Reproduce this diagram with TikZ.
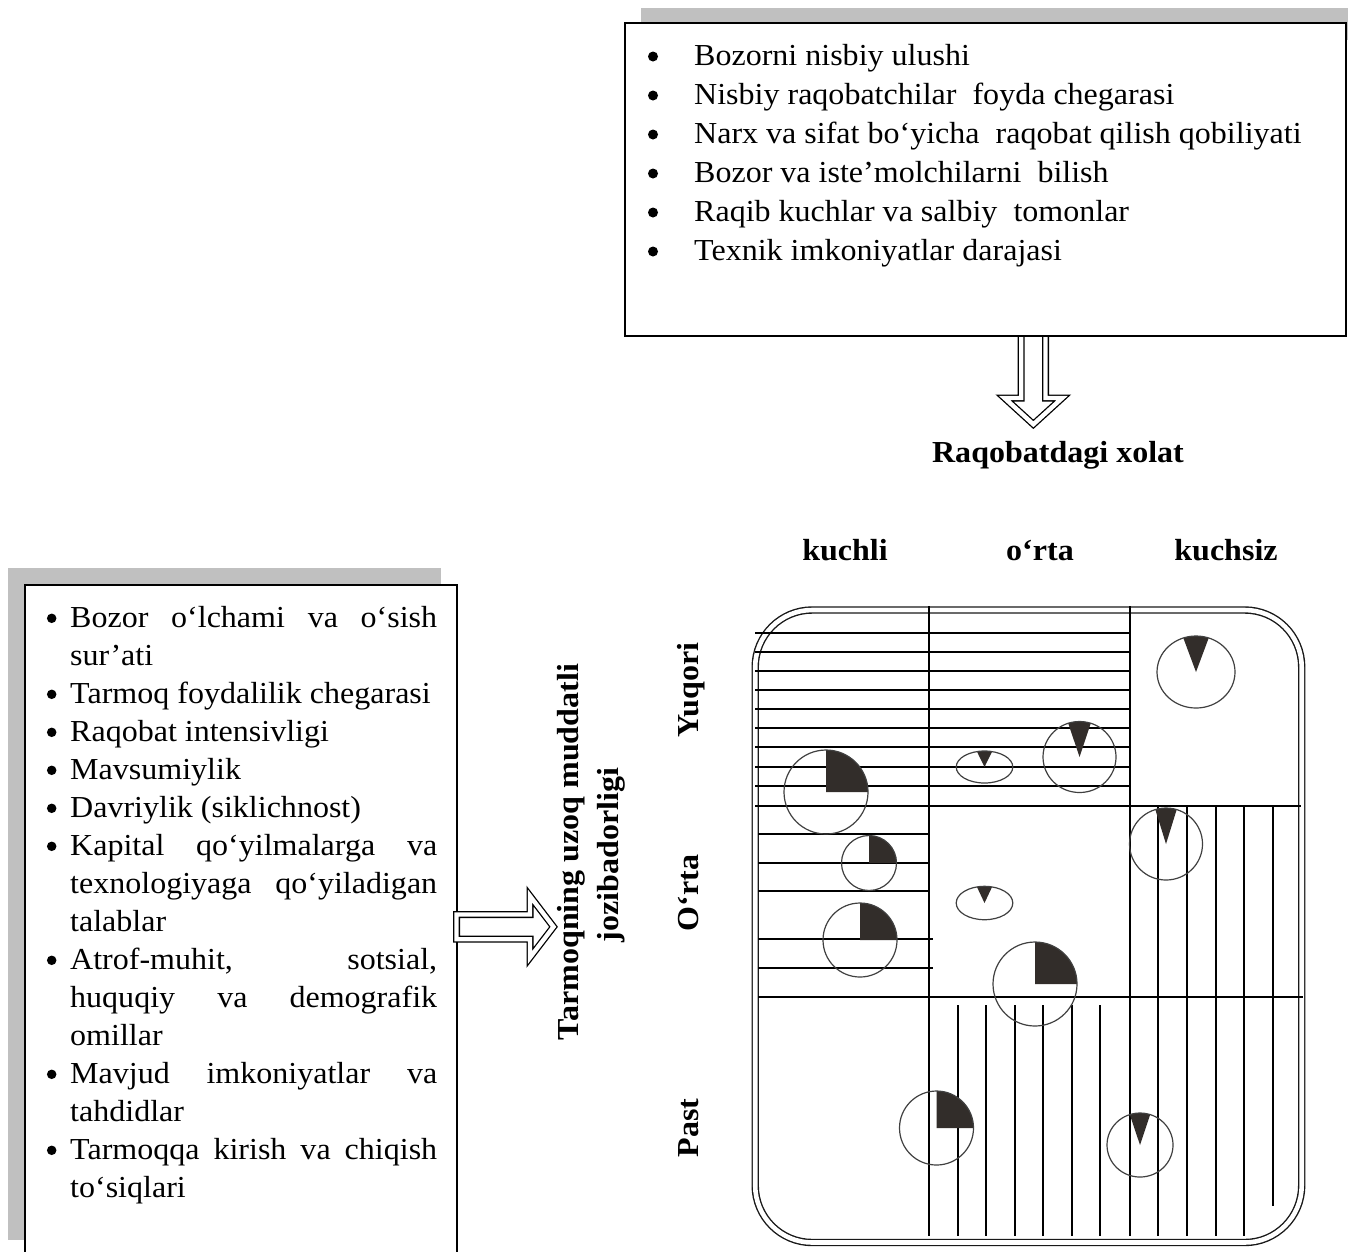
\documentclass[tikz,border=0pt]{standalone}
\usepackage{fontspec}
\setmainfont{Liberation Serif}[FakeStretch=1.05]
\definecolor{shadowgray}{RGB}{192,192,192}
\definecolor{piefill}{RGB}{50,45,42}

% pie with its upper right quarter filled
\newcommand\quarterpie[3]{%
  \fill[wedge] (#1,#2) -- ++(270:#3) arc[start angle=270, end angle=360, radius=#3] -- cycle;
  \draw[ring] (#1,#2) circle[radius=#3];}
% ring (or ellipse) with a narrow dark sector pointing down to its centre
\newcommand\sliverring[5]{%
  \fill[wedge] (#1,#2) -- ++({270-#5}:#3 and #4)
    arc[start angle={270-#5}, end angle={270+#5}, x radius=#3, y radius=#4] -- cycle;
  \draw[ring] (#1,#2) ellipse[x radius=#3, y radius=#4];}

\begin{document}
\begin{tikzpicture}[x=1pt,y=-1pt,
  txt/.style={anchor=base west, inner sep=0pt, font=\fontsize{30.5}{36}\selectfont},
  bul/.style={circle, fill=black, inner sep=0pt, minimum size=10pt},
  head/.style={anchor=base, inner sep=0pt, font=\fontsize{30.5}{36}\selectfont\bfseries},
  side/.style={head, rotate=90},
  hatch/.style={line width=1.8pt, black},
  ring/.style={line width=1.2pt, black!75},
  wedge/.style={fill=piefill},
  blockarrow/.style={draw=black, line width=1.3pt, double=white, double distance=4.4pt, line join=miter},
  frame/.style={draw=black!90, line width=1.4pt, double=white, double distance=4.6pt, rounded corners=57pt}
]
\useasboundingbox (0,0) rectangle (1348,1251);
\clip (0,0) rectangle (1348,1251);
\fill[white] (0,0) rectangle (1348,1251);

% ---------- competitive position factors (top box) ----------
\fill[shadowgray] (641,8) rectangle (1360,40);
\draw[blockarrow] (1021.2,330) -- (1021.2,398) -- (1004.5,398) -- (1033.35,424.3)
  -- (1062.2,398) -- (1045.5,398) -- (1045.5,330);
\node[draw, line width=2.2pt, fill=white, inner sep=0pt,
      minimum width=721pt, minimum height=313pt] (topbox) at (985.5,179.5) {};
\node[bul] (tb1) at (653,56.5) {};
\node[txt] (tt1) at (694,65) {Bozorni nisbiy ulushi};
\node[bul] (tb2) at (653,95.5) {};
\node[txt] (tt2) at (694,104) {Nisbiy raqobatchilar\ \ foyda chegarasi};
\node[bul] (tb3) at (653,134.5) {};
\node[txt] (tt3) at (694,143) {Narx va sifat bo‘yicha\ \ raqobat qilish qobiliyati};
\node[bul] (tb4) at (653,173.5) {};
\node[txt] (tt4) at (694,182) {Bozor va iste’molchilarni\ \ bilish};
\node[bul] (tb5) at (653,212.5) {};
\node[txt] (tt5) at (694,221) {Raqib kuchlar va salbiy\ \ tomonlar};
\node[bul] (tb6) at (653,251.5) {};
\node[txt] (tt6) at (694,260) {Texnik imkoniyatlar darajasi};

\node[head] (raqobat) at (1058,462) {Raqobatdagi xolat};

% ---------- industry attractiveness factors (left box) ----------
\fill[shadowgray] (8,568) rectangle (441,1240);
\node[draw, line width=1.6pt, fill=white, inner sep=0pt,
      minimum width=432pt, minimum height=700pt] (leftbox) at (241,935) {};
\draw[blockarrow] (456.5,914.5) -- (530,914.5) -- (530,896) -- (553.5,926.8)
  -- (530,957.5) -- (530,939.2) -- (456.5,939.2) -- cycle;

\tikzset{lbul/.style={bul, minimum size=9.5pt}}
\node[lbul] (lb1) at (51.7,618.3) {};
\node[txt] (lt1) at (70,627) {\makebox[367pt][s]{Bozor o‘lchami va o‘sish}};
\node[txt] (lt2) at (70,665) {sur’ati};
\node[lbul] (lb2) at (51.7,694.3) {};
\node[txt] (lt3) at (70,703) {Tarmoq foydalilik chegarasi};
\node[lbul] (lb3) at (51.7,732.3) {};
\node[txt] (lt4) at (70,741) {Raqobat intensivligi};
\node[lbul] (lb4) at (51.7,770.3) {};
\node[txt] (lt5) at (70,779) {Mavsumiylik};
\node[lbul] (lb5) at (51.7,808.3) {};
\node[txt] (lt6) at (70,817) {Davriylik (siklichnost)};
\node[lbul] (lb6) at (51.7,846.3) {};
\node[txt] (lt7) at (70,855) {\makebox[367pt][s]{Kapital qo‘yilmalarga va}};
\node[txt] (lt8) at (70,893) {\makebox[367pt][s]{texnologiyaga qo‘yiladigan}};
\node[txt] (lt9) at (70,931) {talablar};
\node[lbul] (lb7) at (51.7,960.3) {};
\node[txt] (lt10) at (70,969) {\makebox[367pt][s]{Atrof-muhit, sotsial,}};
\node[txt] (lt11) at (70,1007) {\makebox[367pt][s]{huquqiy va demografik}};
\node[txt] (lt12) at (70,1045) {omillar};
\node[lbul] (lb8) at (51.7,1074.3) {};
\node[txt] (lt13) at (70,1083) {\makebox[367pt][s]{Mavjud imkoniyatlar va}};
\node[txt] (lt14) at (70,1121) {tahdidlar};
\node[lbul] (lb9) at (51.7,1150.3) {};
\node[txt] (lt15) at (70,1159) {\makebox[367pt][s]{Tarmoqqa kirish va chiqish}};
\node[txt] (lt16) at (70,1197) {to‘siqlari};

% ---------- axis titles ----------
\node[side] (title1) at (578,852) {Tarmoqning uzoq muddatli};
\node[side] (title2) at (618,855) {jozibadorligi};
\node[side] (yuqori) at (698,690) {Yuqori};
\node[side] (ortarow) at (698,893) {O‘rta};
\node[side] (past) at (698,1128) {Past};
\node[head] (kuchli) at (845,560) {kuchli};
\node[head] (ortacol) at (1040,560) {o‘rta};
\node[head] (kuchsiz) at (1226,560) {kuchsiz};

% ---------- 3x3 matrix ----------
\draw[frame] (755.2,610) rectangle (1301.7,1242.5);
\foreach \y in {633,652,671,690,709,728,747,767,786}
  \draw[hatch] (755,\y) -- (1130,\y);
\draw[hatch] (755,806) -- (1301,806);
\foreach \y in {834,863,891}
  \draw[hatch] (758,\y) -- (929,\y);
\foreach \y in {939,968}
  \draw[hatch] (758,\y) -- (933,\y);
\draw[hatch] (758,997) -- (1303,997);
\draw[hatch] (929,606) -- (929,1236);
\draw[hatch] (1130,606) -- (1130,1236);
\foreach \x in {1158,1187,1216,1244}
  \draw[hatch] (\x,806) -- (\x,1236);
\draw[hatch] (1273,806) -- (1273,1206);
\foreach \x in {958,986,1015,1043,1072,1100}
  \draw[hatch] (\x,1005) -- (\x,1236);

% business positions
\quarterpie{826}{792}{42}
\quarterpie{869}{863}{27.5}
\quarterpie{860}{940}{37}
\quarterpie{1035}{984}{42}
\quarterpie{936.5}{1128}{37}
\sliverring{984.5}{767}{28.3}{16}{15.5}
\sliverring{984.5}{903}{28.3}{16.7}{15.5}
\sliverring{1079.5}{757}{36.5}{35.5}{18}
\sliverring{1196}{672}{39}{36}{19}
\sliverring{1166}{844}{36.5}{36}{17}
\sliverring{1140}{1145}{33}{32}{18}
\end{tikzpicture}
\end{document}
